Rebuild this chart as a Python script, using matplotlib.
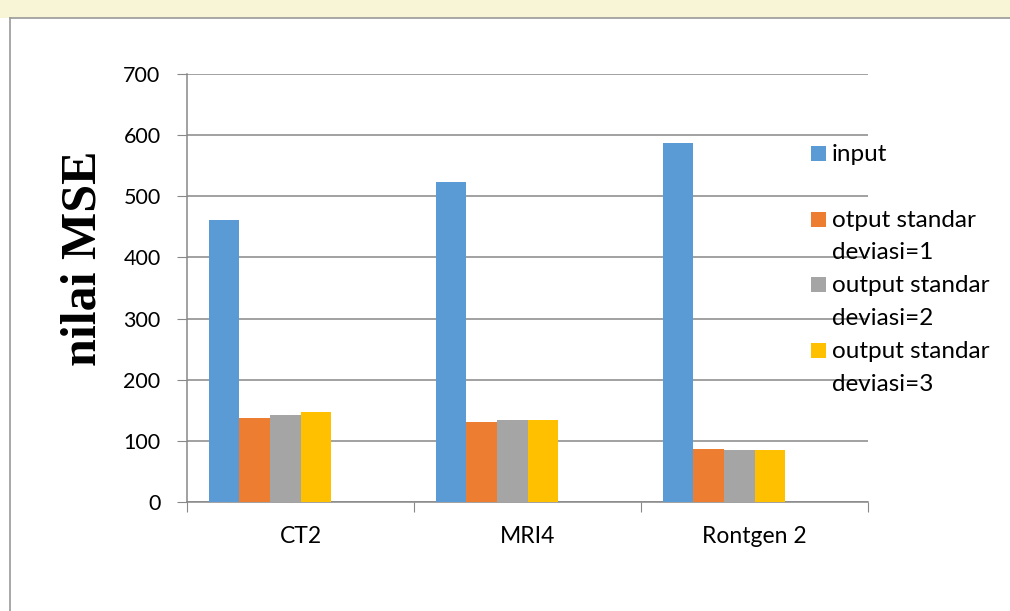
import matplotlib.pyplot as plt
import matplotlib.patches as mpatches
import numpy as np

# data
kategori = ["CT2", "MRI4", "Rontgen 2"]
seri = ["input", "otput standar\ndeviasi=1", "output standar\ndeviasi=2", "output standar\ndeviasi=3"]
nilai_input = [461, 523, 587]
nilai_sd1 = [137, 131, 86]
nilai_sd2 = [142, 134, 85]
nilai_sd3 = [147, 134, 84.5]
warna = ["#5B9BD5", "#ED7D31", "#A5A5A5", "#FFC000"]

semua = [nilai_input, nilai_sd1, nilai_sd2, nilai_sd3]

fig = plt.figure(figsize=(10.10, 6.11), dpi=100)
fig.patch.set_facecolor("white")

# pita pucat di atas (watermark) dan bingkai
fig.patches.append(mpatches.Rectangle((0, 1 - 18/611), 1, 18/611, transform=fig.transFigure,
                                      facecolor="#f7f5d6", edgecolor="none", zorder=0))
fig.add_artist(plt.Line2D([10/1010, 10/1010], [0, 1 - 18/611], transform=fig.transFigure, color="#9a9a9a", lw=1.2))
fig.add_artist(plt.Line2D([10/1010, 1], [1 - 18/611, 1 - 18/611], transform=fig.transFigure, color="#9a9a9a", lw=1.2))

ax = fig.add_axes([187/1010, 1 - 502/611, (868 - 187)/1010, (502 - 74)/611])

# 6 slot seri (2 kosong), hanya 4 digambar
n_slot = 6
lebar = 0.1347
x = np.arange(len(kategori))
for i, vals in enumerate(semua):
    off = -n_slot*lebar/2 + (i + 0.5)*lebar
    ax.bar(x + off, vals, width=lebar, color=warna[i], zorder=3)

ax.set_xlim(-0.5, 2.5)
ax.set_ylim(0, 700)
ax.set_yticks(np.arange(0, 701, 100))
ax.yaxis.grid(True, color="#888888", lw=1.1, zorder=0)
ax.set_xticks([-0.5, 0.5, 1.5, 2.5])
ax.set_xticklabels([])
ax.set_xticks(x, minor=True)
ax.set_xticklabels(kategori, minor=True, fontsize=16.5, family="Lato")
ax.tick_params(axis="x", which="minor", length=0, pad=17)
ax.tick_params(axis="x", which="major", length=7, color="#888888", direction="out")
ax.tick_params(axis="y", length=7, color="#888888", labelsize=15.5, pad=12)
for lbl in ax.get_yticklabels():
    lbl.set_family("Lato")
for s in ["top", "right"]:
    ax.spines[s].set_visible(False)
for s in ["left", "bottom"]:
    ax.spines[s].set_color("#888888")
    ax.spines[s].set_linewidth(1.1)

fig.text(83/1010, 1 - 258/611, "nilai MSE", rotation=90, ha="center", va="center",
         fontsize=36, fontweight="bold", family="Liberation Serif")

# legenda manual
for k, nama in enumerate(seri):
    base = 161 + 65.7*k
    fig.patches.append(mpatches.Rectangle((811/1010, 1 - base/611), 15/1010, 15/611,
                                          transform=fig.transFigure, facecolor=warna[k], edgecolor="none"))
    for j, baris in enumerate(nama.split("\n")):
        fig.text(832/1010, 1 - (base + 32.6*j)/611, baris, ha="left", va="baseline",
                 fontsize=17.5, family="Lato")

fig.savefig("out.png", dpi=100)
